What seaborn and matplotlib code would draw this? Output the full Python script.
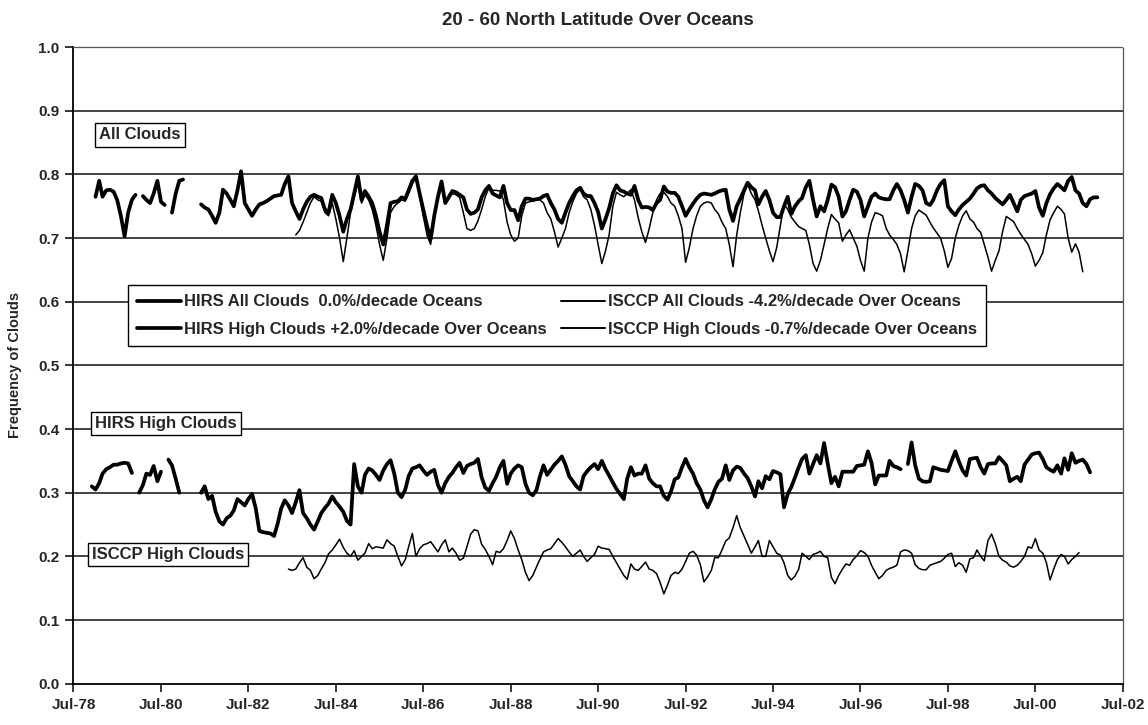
import numpy as np
import pandas as pd
import matplotlib
matplotlib.use("Agg")
import matplotlib.pyplot as plt
import matplotlib.dates as mdates
from matplotlib.lines import Line2D
from matplotlib.ticker import FormatStrFormatter, MultipleLocator
import seaborn as sns

nan = np.nan

# ---------------- data (monthly values) ----------------
hirs_all_start = "1979-01"
hirs_all = [
    .765, .79, .765, .775, .776, .773, .76, .735, .703, .74, .76, .768,      # 1979
    nan, .766, .76, .755, .77, .79, .757, .752, nan, .74, .77, .79,          # 1980
    .792, nan, nan, nan, nan, .753, .748, .745, .735, .724, .74, .776,       # 1981
    .77, .76, .75, .775, .805, .755, .745, .735, .745, .753, .755, .758,     # 1982
    .762, .766, .767, .768, .785, .797, .755, .742, .73, .745, .757, .765,   # 1983
    .768, .765, .763, .745, .74, .768, .755, .735, .71, .73, .745, .77,      # 1984
    .797, .76, .774, .765, .755, .735, .71, .69, .72, .755, .757, .758,      # 1985
    .764, .762, .775, .79, .797, .77, .745, .72, .698, .735, .765, .789,     # 1986
    .755, .765, .774, .772, .768, .764, .745, .738, .74, .745, .764, .775,   # 1987
    .782, .77, .767, .764, .782, .755, .744, .744, .728, .75, .762, .762,    # 1988
    .76, .761, .762, .766, .768, .755, .745, .73, .724, .74, .755, .766,     # 1989
    .775, .779, .77, .766, .766, .755, .741, .715, .73, .747, .77, .783,     # 1990
    .775, .773, .77, .768, .782, .76, .748, .749, .748, .744, .755, .76,     # 1991
    .781, .773, .771, .771, .765, .75, .735, .745, .754, .762, .768, .77,    # 1992
    .769, .768, .77, .773, .775, .776, .745, .727, .75, .762, .775, .787,    # 1993
    .78, .775, .753, .765, .774, .76, .74, .733, .733, .75, .765, .738,      # 1994
    .75, .758, .763, .78, .79, .76, .734, .75, .742, .76, .784, .78,         # 1995
    .765, .734, .742, .76, .776, .773, .76, .734, .75, .765, .77, .764,      # 1996
    .762, .761, .761, .775, .785, .775, .76, .74, .765, .785, .782, .775,    # 1997
    .755, .752, .76, .775, .785, .791, .75, .742, .736, .745, .752, .757,    # 1998
    .762, .77, .778, .782, .783, .775, .77, .763, .758, .753, .76, .768,     # 1999
    .755, .742, .76, .766, .768, .77, .774, .748, .735, .755, .769, .778,    # 2000
    .785, .78, .775, .79, .796, .775, .77, .755, .75, .761, .764, .764,      # 2001
]

isccp_all_start = "1983-08"
isccp_all = [
    .705, .712, .725, .74, .755,                                              # 1983 Aug-Dec
    .765, .76, .758, .74, .735, .755, .73, .7, .663, .7, .74, .765,          # 1984
    .785, .755, .768, .76, .745, .72, .69, .665, .7, .74, .75, .755,         # 1985
    .76, .758, .77, .785, .795, .765, .735, .705, .69, .73, .76, .785,       # 1986
    .755, .762, .77, .768, .764, .74, .715, .712, .715, .727, .745, .765,    # 1987
    .779, .775, .775, .774, .76, .725, .705, .695, .7, .735, .755, .757,     # 1988
    .758, .76, .76, .755, .74, .73, .71, .686, .7, .715, .74, .757,          # 1989
    .77, .777, .765, .76, .745, .72, .69, .66, .68, .705, .75, .772,         # 1990
    .768, .765, .77, .776, .76, .732, .71, .693, .715, .74, .76, .77,        # 1991
    .772, .765, .755, .75, .735, .715, .662, .685, .715, .735, .75, .755,    # 1992
    .757, .755, .745, .738, .725, .715, .69, .655, .705, .74, .77, .785,     # 1993
    .77, .76, .743, .72, .7, .68, .663, .685, .72, .754, .745, .733,         # 1994
    .725, .718, .715, .712, .69, .66, .648, .665, .69, .715, .737, .73,      # 1995
    .724, .695, .705, .713, .7, .687, .665, .648, .7, .725, .74, .738,       # 1996
    .735, .715, .705, .698, .69, .675, .647, .68, .715, .735, .744, .74,     # 1997
    .736, .725, .716, .708, .7, .68, .654, .668, .7, .72, .735, .743,        # 1998
    .73, .725, .715, .709, .69, .67, .648, .665, .68, .71, .734, .73,        # 1999
    .726, .715, .706, .698, .69, .675, .656, .665, .677, .705, .729, .74,    # 2000
    .75, .745, .738, .7, .678, .691, .678, .647,                             # 2001 Jan-Aug
]

hirs_high_start = "1978-12"
hirs_high = [
    .31,                                                                      # 1978 Dec
    .305, .315, .33, .337, .34, .344, .344, .346, .347, .346, .331, nan,     # 1979
    .30, .312, .33, .328, .342, .318, .333, nan, .352, .343, .322, .30,      # 1980
    nan, nan, nan, nan, nan, .30, .31, .29, .295, .27, .255, .25,            # 1981
    .26, .264, .272, .29, .285, .28, .29, .298, .275, .24, .238, .237,       # 1982
    .236, .232, .25, .275, .288, .28, .268, .285, .304, .268, .26, .25,      # 1983
    .242, .255, .268, .276, .283, .294, .285, .278, .27, .256, .25, .345,    # 1984
    .31, .30, .328, .338, .335, .328, .32, .335, .345, .351, .33, .30,       # 1985
    .293, .305, .326, .338, .34, .343, .335, .328, .333, .336, .312, .30,    # 1986
    .315, .325, .331, .34, .347, .331, .342, .345, .347, .353, .324, .308,   # 1987
    .303, .315, .325, .34, .35, .314, .33, .338, .343, .34, .314, .30,       # 1988
    .296, .304, .325, .343, .328, .336, .344, .35, .357, .344, .326, .318,   # 1989
    .31, .305, .326, .334, .34, .345, .337, .35, .337, .327, .316, .306,     # 1990
    .298, .29, .322, .34, .327, .33, .33, .343, .322, .315, .31, .31,        # 1991
    .295, .289, .302, .321, .324, .34, .353, .34, .33, .315, .305, .288,     # 1992
    .277, .29, .305, .317, .322, .343, .32, .335, .341, .339, .33, .323,     # 1993
    .31, .294, .318, .307, .326, .321, .334, .332, .329, .277, .298, .309,   # 1994
    .324, .34, .353, .359, .33, .345, .359, .346, .378, .346, .315, .325,    # 1995
    .31, .333, .333, .333, .333, .342, .343, .344, .365, .347, .313, .327,   # 1996
    .327, .327, .35, .342, .34, .337, nan, .345, .379, .343, .322, .318,     # 1997
    .317, .318, .34, .338, .336, .335, .334, .35, .365, .349, .335, .327,    # 1998
    .353, .354, .355, .34, .33, .345, .346, .346, .356, .35, .343, .318,     # 1999
    .322, .325, .318, .344, .352, .36, .362, .363, .353, .34, .336, .333,    # 2000
    .343, .33, .354, .336, .362, .347, .35, .352, .345, .332,                # 2001 Jan-Oct
]

isccp_high_start = "1983-06"
isccp_high = [
    .18, .178, .18, .19, .198, .183, .178,                                    # 1983 Jun-Dec
    .165, .17, .18, .19, .204, .21, .218, .227, .214, .205, .2, .209,        # 1984
    .194, .2, .205, .22, .212, .215, .214, .213, .226, .22, .216, .2,        # 1985
    .185, .195, .215, .236, .2, .212, .218, .22, .223, .215, .207, .218,     # 1986
    .226, .207, .213, .205, .194, .197, .215, .235, .242, .24, .219, .211,   # 1987
    .2, .187, .208, .206, .212, .225, .24, .228, .21, .195, .175, .162,      # 1988
    .17, .183, .195, .207, .21, .212, .22, .228, .222, .215, .207, .2,       # 1989
    .205, .21, .2, .192, .198, .203, .216, .213, .212, .211, .2, .19,        # 1990
    .18, .17, .164, .188, .18, .178, .184, .191, .18, .178, .173, .159,      # 1991
    .141, .155, .17, .175, .173, .18, .192, .205, .208, .202, .187, .16,     # 1992
    .168, .178, .198, .198, .21, .224, .229, .245, .264, .245, .232, .219,   # 1993
    .205, .215, .225, .2, .2, .225, .215, .205, .202, .19, .17, .163,        # 1994
    .169, .18, .205, .2, .195, .203, .205, .208, .2, .198, .167, .157,       # 1995
    .17, .18, .188, .186, .195, .201, .209, .206, .2, .186, .175, .165,      # 1996
    .17, .178, .181, .183, .186, .207, .21, .209, .205, .187, .181, .179,    # 1997
    .179, .186, .188, .19, .192, .197, .203, .205, .184, .19, .186, .175,    # 1998
    .196, .198, .21, .2, .193, .225, .235, .22, .2, .194, .191, .185,        # 1999
    .183, .186, .192, .2, .215, .213, .228, .21, .205, .19, .163, .18,       # 2000
    .195, .203, .2, .188, .195, .2, .206,                                    # 2001 Jan-Jul
]

legend_labels = [
    "HIRS All Clouds  0.0%/decade Oceans",
    "HIRS High Clouds +2.0%/decade Over Oceans",
    "ISCCP All Clouds -4.2%/decade Over Oceans",
    "ISCCP High Clouds -0.7%/decade Over Oceans",
]
box_labels = ["All Clouds", "HIRS High Clouds", "ISCCP High Clouds"]
title = "20 - 60 North Latitude Over Oceans"
ylabel = "Frequency of Clouds"


def to_frame(start, values):
    dates = pd.date_range(start=start, periods=len(values), freq="MS")
    df = pd.DataFrame({"date": dates, "value": values})
    df["segment"] = df["value"].isna().cumsum()
    return df.dropna().reset_index(drop=True)


sns.set_theme(style="white")
plt.rcParams["font.family"] = ["Liberation Sans", "DejaVu Sans"]

fig = plt.figure(figsize=(11.48, 7.25), dpi=100)
ax = fig.add_axes([0.064, 0.057, 0.914, 0.878])

thick, thin = 2.7, 1.1
series = [
    (hirs_all_start, hirs_all, thick),
    (hirs_high_start, hirs_high, thick),
    (isccp_all_start, isccp_all, thin),
    (isccp_high_start, isccp_high, thin),
]
for start, vals, lw in series:
    df = to_frame(start, vals)
    sns.lineplot(data=df, x="date", y="value", units="segment", estimator=None,
                 color="black", linewidth=lw, ax=ax, legend=False, sort=False)

ax.set_xlim(pd.Timestamp("1978-07-01"), pd.Timestamp("2002-07-01"))
ax.set_ylim(0.0, 1.0)
ax.yaxis.set_major_locator(MultipleLocator(0.1))
ax.yaxis.set_major_formatter(FormatStrFormatter("%.1f"))
ax.xaxis.set_major_locator(mdates.YearLocator(base=2, month=7, day=1))
ax.xaxis.set_major_formatter(mdates.DateFormatter("%b-%y"))

# horizontal gridlines
for yv in np.arange(0.1, 0.95, 0.1):
    ax.axhline(yv, color="#111111", linewidth=1.1, zorder=0.5)

for s in ["left", "bottom"]:
    ax.spines[s].set_color("black")
    ax.spines[s].set_linewidth(1.3)
for s in ["top", "right"]:
    ax.spines[s].set_color("#555555")
    ax.spines[s].set_linewidth(0.9)
    ax.spines[s].set_linestyle((0, (1, 1)))

ax.tick_params(axis="both", which="major", direction="out", length=6, width=1.1,
               color="black", labelsize=11, pad=4, left=True, bottom=True)
for lab in ax.get_xticklabels() + ax.get_yticklabels():
    lab.set_fontweight("bold")

ax.set_xlabel("")
ax.set_ylabel(ylabel, fontsize=10.5, fontweight="bold", labelpad=12)
ax.set_title(title, fontsize=13.5, fontweight="bold", pad=16)

box_style = dict(boxstyle="square,pad=0.25", facecolor="white", edgecolor="black", linewidth=1.0)
ax.text(pd.Timestamp("1979-02-01"), 0.862, box_labels[0], fontsize=12, fontweight="bold",
        va="center", ha="left", bbox=box_style, zorder=5)
ax.text(pd.Timestamp("1979-01-01"), 0.409, box_labels[1], fontsize=12, fontweight="bold",
        va="center", ha="left", bbox=box_style, zorder=5)
ax.text(pd.Timestamp("1978-12-01"), 0.203, box_labels[2], fontsize=12, fontweight="bold",
        va="center", ha="left", bbox=box_style, zorder=5)

handles = [
    Line2D([], [], color="black", linewidth=thick),
    Line2D([], [], color="black", linewidth=thick),
    Line2D([], [], color="black", linewidth=1.4),
    Line2D([], [], color="black", linewidth=1.4),
]
leg = ax.legend(handles, legend_labels, ncol=2, loc="upper left",
                bbox_to_anchor=(0.052, 0.626), frameon=True, fancybox=False,
                edgecolor="black", facecolor="white", framealpha=1.0,
                prop={"size": 12, "weight": "bold"}, handlelength=2.6,
                handletextpad=0.2, columnspacing=0.9, labelspacing=0.75,
                borderpad=0.55, borderaxespad=0)
leg.get_frame().set_linewidth(1.0)
leg.set_zorder(6)

fig.savefig("out.png", dpi=100, facecolor="white")
